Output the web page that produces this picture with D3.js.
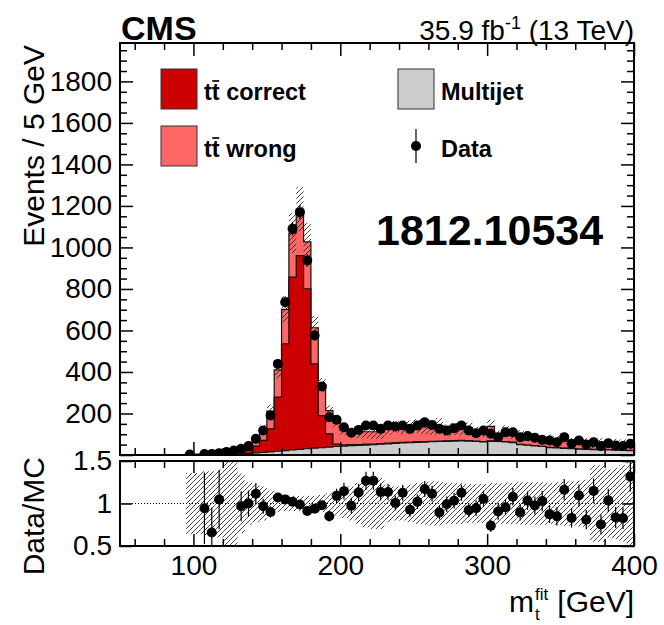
<!DOCTYPE html>
<html>
<head>
<meta charset="utf-8">
<script src="https://cdn.jsdelivr.net/npm/d3@7"></script>
<style>
  body { margin: 0; background: #fff; }
  text { font-family: "Liberation Sans", Arial, Helvetica, sans-serif; }
</style>
</head>
<body>
<div id="chart"></div>
<script>
// 5 GeV bins, first filled bin is 95-100 GeV
binCenters = d3.range(97.5, 400, 5)

dataCounts = [2, 0, 5, 5, 9, 14, 22, 30, 43, 78,
  118, 190, 439, 736, 1090, 1170, 937, 576, 330, 182,
  170, 134, 107, 121, 142, 142, 126, 142, 137, 142,
  126, 142, 158, 145, 126, 118, 129, 142, 118, 105,
  118, 102, 86, 110, 110, 86, 91, 83, 73, 70,
  62, 86, 54, 70, 51, 62, 43, 57, 46, 43, 54]

multijet = [0.3, 1, 1.5, 2, 3, 4, 5, 6, 8, 10,
  12, 15, 18, 21, 24, 27, 30, 33, 36, 38,
  41, 43, 45, 46, 48, 50, 52, 54, 56, 58,
  59, 61, 62, 64, 65, 66, 67, 68, 67, 65,
  63, 66, 65, 63, 60, 50, 47, 44, 41, 36,
  34, 32, 30, 28, 27, 26, 25, 24, 23, 22, 21]

ttCorrect = [0.3, 1, 1.5, 2, 2, 2, 4, 10, 15, 33,
  58, 111, 261, 515, 833, 934, 771, 406, 154, 64,
  12, 6, 5, 4, 4, 3, 3, 3, 3, 3,
  3, 3, 2, 2, 2, 2, 2, 2, 2, 2,
  2, 2, 2, 2, 2, 1, 1, 1, 1, 1,
  1, 1, 1, 1, 1, 1, 1, 1, 1, 1, 1]

ttWrong = [0.4, 2, 2.3, 3.6, 3.6, 2, 4, 15, 20, 27,
  52, 85, 131, 166, 212, 223, 226, 174, 147, 112,
  103, 68, 60, 57, 60, 59, 56, 68, 77, 65,
  74, 75, 71, 64, 74, 51, 56, 56, 59, 44,
  47, 70, 28, 50, 40, 45, 40, 40, 29, 43,
  38, 41, 34, 35, 35, 27, 31, 30, 31, 29, 19]

// relative MC uncertainty (hatched band)
mcUnc = [0.36, 0.36, 0.38, 0.38, 0.4, 0.6, 0.6, 0.35, 0.25, 0.22,
  0.2, 0.15, 0.1, 0.09, 0.09, 0.09, 0.09, 0.09, 0.1, 0.12,
  0.14, 0.17, 0.2, 0.24, 0.28, 0.3, 0.3, 0.22, 0.2, 0.2,
  0.22, 0.24, 0.25, 0.26, 0.26, 0.24, 0.24, 0.24, 0.23, 0.23,
  0.23, 0.24, 0.24, 0.24, 0.24, 0.25, 0.25, 0.25, 0.25, 0.24,
  0.25, 0.26, 0.26, 0.27, 0.28, 0.45, 0.45, 0.4, 0.42, 0.45, 0.5]

yTicks = [0, 200, 400, 600, 800, 1000, 1200, 1400, 1600, 1800]
xTicks = [100, 200, 300, 400]
ratioTicks = [0.5, 1, 1.5]

colCorrect = "#cc0000"
colWrong = "#ff6666"
colMulti = "#cccccc"

W = 664, H = 625
fr = {left: 120, right: 634, top: 43, mid: 455, rtop: 461, bottom: 546}

x = d3.scaleLinear().domain([50, 400]).range([fr.left, fr.right])
y = d3.scaleLinear().domain([0, 1985]).range([fr.mid, fr.top])
yr = d3.scaleLinear().domain([0.5, 1.5]).range([fr.bottom, fr.rtop])

cumMulti = multijet
cumCorrect = multijet.map((v, i) => v + ttCorrect[i])
cumTotal = cumCorrect.map((v, i) => v + ttWrong[i])

svg = d3.select("#chart").append("svg")
  .attr("width", W).attr("height", H)

defs = svg.append("defs")
pat = defs.append("pattern").attr("id", "hatch")
  .attr("patternUnits", "userSpaceOnUse").attr("width", 5).attr("height", 5)
pat.append("path").attr("d", "M-1,1 l2,-2 M0,5 l5,-5 M4,6 l2,-2")
  .attr("stroke", "#222").attr("stroke-width", 0.85)

defs.append("clipPath").attr("id", "clipTop").append("rect")
  .attr("x", fr.left).attr("y", fr.top).attr("width", fr.right - fr.left).attr("height", fr.mid - fr.top)
defs.append("clipPath").attr("id", "clipBot").append("rect")
  .attr("x", fr.left).attr("y", fr.rtop).attr("width", fr.right - fr.left).attr("height", fr.bottom - fr.rtop)

function stepPts(vals) {
  var pts = [[95, 0]]
  binCenters.forEach(function(c, i) {
    pts.push([c - 2.5, vals[i]])
    pts.push([c + 2.5, vals[i]])
  })
  pts.push([400, 0])
  return pts
}

area = d3.area().x(d => x(d[0])).y0(y(0)).y1(d => y(d[1]))
outline = d3.line().x(d => x(d[0])).y(d => y(d[1]))

// ---- upper panel
gTop = svg.append("g").attr("clip-path", "url(#clipTop)")

var stacks = [[cumTotal, colWrong], [cumCorrect, colCorrect], [cumMulti, colMulti]]
stacks.forEach(function(s) {
  gTop.append("path").datum(stepPts(s[0]))
    .attr("d", area).attr("fill", s[1]).attr("stroke", "none")
  gTop.append("path").datum(stepPts(s[0]))
    .attr("d", outline).attr("fill", "none").attr("stroke", "#111").attr("stroke-width", 1.2)
})

// MC uncertainty band
gTop.selectAll("rect.unc").data(binCenters).join("rect")
  .attr("class", "unc")
  .attr("x", d => x(d - 2.5))
  .attr("width", d => x(d + 2.5) - x(d - 2.5))
  .attr("y", (d, i) => y(cumTotal[i] * (1 + mcUnc[i])))
  .attr("height", (d, i) => y(cumTotal[i] * (1 - mcUnc[i])) - y(cumTotal[i] * (1 + mcUnc[i])))
  .attr("fill", "url(#hatch)")

// data
pts = binCenters.map((c, i) => ({c: c, n: dataCounts[i], mc: cumTotal[i]})).filter(d => d.n > 0)
gTop.selectAll("line.err").data(pts).join("line")
  .attr("class", "err")
  .attr("x1", d => x(d.c)).attr("x2", d => x(d.c))
  .attr("y1", d => y(d.n - Math.sqrt(d.n))).attr("y2", d => y(d.n + Math.sqrt(d.n)))
  .attr("stroke", "#000").attr("stroke-width", 1.2)
gTop.selectAll("circle").data(pts).join("circle")
  .attr("cx", d => x(d.c)).attr("cy", d => y(d.n)).attr("r", 5).attr("fill", "#000")

// ---- ratio panel
gBot = svg.append("g").attr("clip-path", "url(#clipBot)")

gBot.append("line")
  .attr("x1", fr.left).attr("x2", fr.right).attr("y1", yr(1)).attr("y2", yr(1))
  .attr("stroke", "#000").attr("stroke-width", 1).attr("stroke-dasharray", "1,2")

gBot.selectAll("rect.unc").data(binCenters).join("rect")
  .attr("class", "unc")
  .attr("x", d => x(d - 2.5))
  .attr("width", d => x(d + 2.5) - x(d - 2.5))
  .attr("y", (d, i) => yr(1 + mcUnc[i]))
  .attr("height", (d, i) => yr(1 - mcUnc[i]) - yr(1 + mcUnc[i]))
  .attr("fill", "url(#hatch)")

ratioPts = pts.map(d => ({c: d.c, r: d.n / d.mc, e: Math.sqrt(d.n) / d.mc}))
  .filter(d => d.r >= 0.5 && d.r <= 1.5)
gBot.selectAll("line.err").data(ratioPts).join("line")
  .attr("class", "err")
  .attr("x1", d => x(d.c)).attr("x2", d => x(d.c))
  .attr("y1", d => yr(d.r - d.e)).attr("y2", d => yr(d.r + d.e))
  .attr("stroke", "#000").attr("stroke-width", 1.2)
gBot.selectAll("circle").data(ratioPts).join("circle")
  .attr("cx", d => x(d.c)).attr("cy", d => yr(d.r)).attr("r", 5).attr("fill", "#000")

// ---- axes (ROOT style: ticks inside the frame)
function styleAxis(g, labels) {
  g.select(".domain").remove()
  g.selectAll(".tick line").attr("stroke", "#000").attr("stroke-width", 1.5)
  if (!labels) g.selectAll(".tick text").remove()
  else g.selectAll(".tick text").attr("font-size", 28).attr("fill", "#000")
}
minorY = d3.range(0, 1985, 50).filter(v => v % 200 != 0)
minorX = d3.range(60, 400, 20).filter(v => v % 100 != 0)

svg.append("g").attr("transform", `translate(${fr.left},0)`)
  .call(d3.axisLeft(y).tickValues(yTicks).tickSizeInner(-13).tickSizeOuter(0).tickPadding(8)
    .tickFormat(d => d == 0 ? "" : d))
  .call(styleAxis, true)
svg.append("g").attr("transform", `translate(${fr.left},0)`)
  .call(d3.axisLeft(y).tickValues(minorY).tickSizeInner(-7).tickSizeOuter(0))
  .call(styleAxis, false)
svg.append("g").attr("transform", `translate(${fr.right},0)`)
  .call(d3.axisRight(y).tickValues(yTicks).tickSizeInner(-13).tickSizeOuter(0))
  .call(styleAxis, false)
svg.append("g").attr("transform", `translate(${fr.right},0)`)
  .call(d3.axisRight(y).tickValues(minorY).tickSizeInner(-7).tickSizeOuter(0))
  .call(styleAxis, false)

// x ticks on both panels, top and bottom edges
;[[fr.top, "top"], [fr.mid, "bottom"], [fr.rtop, "top"], [fr.bottom, "bottom"]].forEach(function(p, k) {
  var ax = p[1] == "top" ? d3.axisTop : d3.axisBottom
  var big = k >= 2 ? -12 : -13
  svg.append("g").attr("transform", `translate(0,${p[0]})`)
    .call(ax(x).tickValues(xTicks).tickSizeInner(big).tickSizeOuter(0).tickPadding(9)
      .tickFormat(d3.format("d")))
    .call(styleAxis, k == 3)
  svg.append("g").attr("transform", `translate(0,${p[0]})`)
    .call(ax(x).tickValues(minorX).tickSizeInner(-7).tickSizeOuter(0))
    .call(styleAxis, false)
})

svg.append("g").attr("transform", `translate(${fr.left},0)`)
  .call(d3.axisLeft(yr).tickValues(ratioTicks).tickSizeInner(-12).tickSizeOuter(0).tickPadding(8)
    .tickFormat(d => d))
  .call(styleAxis, true)
svg.append("g").attr("transform", `translate(${fr.right},0)`)
  .call(d3.axisRight(yr).tickValues(ratioTicks).tickSizeInner(-12).tickSizeOuter(0))
  .call(styleAxis, false)

// frames
svg.append("rect").attr("x", fr.left).attr("y", fr.top)
  .attr("width", fr.right - fr.left).attr("height", fr.mid - fr.top)
  .attr("fill", "none").attr("stroke", "#000").attr("stroke-width", 2)
svg.append("rect").attr("x", fr.left).attr("y", fr.rtop)
  .attr("width", fr.right - fr.left).attr("height", fr.bottom - fr.rtop)
  .attr("fill", "none").attr("stroke", "#000").attr("stroke-width", 2)

// ---- titles
svg.append("text").attr("x", 121).attr("y", 40)
  .attr("font-size", 34).attr("font-weight", "bold").text("CMS")

lumi = svg.append("text").attr("x", fr.right).attr("y", 40)
  .attr("font-size", 28).attr("text-anchor", "end")
lumi.append("tspan").text("35.9 fb")
lumi.append("tspan").attr("dy", -11).attr("font-size", 18).text("-1")
lumi.append("tspan").attr("dy", 11).text(" (13 TeV)")

svg.append("text").attr("transform", "translate(44,45) rotate(-90)")
  .attr("text-anchor", "end").attr("font-size", 30).text("Events / 5 GeV")
svg.append("text").attr("transform", "translate(44,457) rotate(-90)")
  .attr("text-anchor", "end").attr("font-size", 30).text("Data/MC")

svg.append("text").attr("x", 376).attr("y", 245)
  .attr("font-size", 43).attr("font-weight", "bold").text("1812.10534")

// x title: m_t^fit [GeV]
gev = svg.append("text").attr("x", fr.right).attr("y", 612)
  .attr("font-size", 30).attr("text-anchor", "end").text("[GeV]")
gevW = gev.node().getComputedTextLength()
sup = svg.append("text").attr("y", 600).attr("font-size", 17).text("fit")
supW = sup.node().getComputedTextLength()
supX = fr.right - gevW - 9 - supW
sup.attr("x", supX)
svg.append("text").attr("x", supX).attr("y", 620).attr("font-size", 17).text("t")
svg.append("text").attr("x", supX - 1).attr("y", 612).attr("font-size", 30)
  .attr("text-anchor", "end").text("m")

// ---- legend
legend = [
  {label: "correct", tt: true, kind: "box", col: colCorrect, x: 161, y: 69},
  {label: "wrong", tt: true, kind: "box", col: colWrong, x: 161, y: 126},
  {label: "Multijet", tt: false, kind: "box", col: colMulti, x: 398, y: 69},
  {label: "Data", tt: false, kind: "pt", col: "#000", x: 398, y: 126}
]
legend.forEach(function(l) {
  if (l.kind == "box") {
    svg.append("rect").attr("x", l.x).attr("y", l.y).attr("width", 36).attr("height", 40)
      .attr("fill", l.col).attr("stroke", "#333").attr("stroke-width", 1)
  } else {
    svg.append("line").attr("x1", l.x + 18).attr("x2", l.x + 18)
      .attr("y1", l.y + 3).attr("y2", l.y + 37).attr("stroke", "#000").attr("stroke-width", 1.2)
    svg.append("circle").attr("cx", l.x + 18).attr("cy", l.y + 20).attr("r", 5).attr("fill", "#000")
  }
  var t = svg.append("text").attr("x", l.x + 43).attr("y", l.y + 31)
    .attr("font-size", 23.5).attr("font-weight", "bold")
    .text(l.tt ? "tt " + l.label : l.label)
  if (l.tt) {
    var n = t.node()
    var x0 = n.getStartPositionOfChar(1).x, x1 = n.getEndPositionOfChar(1).x
    svg.append("line").attr("x1", x0 + 0.5).attr("x2", x1 - 0.5)
      .attr("y1", l.y + 12).attr("y2", l.y + 12)
      .attr("stroke", "#000").attr("stroke-width", 1.7)
  }
})
</script>
</body>
</html>
